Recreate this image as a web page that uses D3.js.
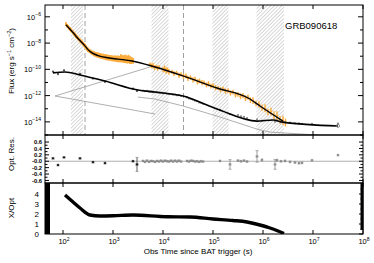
<!DOCTYPE html>
<html><head><meta charset="utf-8">
<script src="https://cdn.jsdelivr.net/npm/d3@7"></script>
<style>body{margin:0;background:#fff}svg{display:block}text{font-family:"Liberation Sans",Arial,sans-serif;fill:#000}</style>
</head><body><svg id="c" width="374" height="263"></svg>
<script>
// ---------- DATA (log10 values) ----------
const timeTicks = [2,3,4,5,6,7,8];
const fluxTicks = [-6,-8,-10,-12,-14];
const resTicks = [0.6,0.4,0.2,0,-0.2,-0.4,-0.6];
const resTickLabels = ["0.6","0.4","0.2","-0.0","-0.2","-0.4","-0.6"];
const ratioTicks = [0,1,2,3,4];
const grbName = "GRB090618";

const hatchBands = [[2.16,2.40],[3.77,4.11],[4.99,5.31],[5.87,6.42]];
const dashedTimes = [2.44,4.41];

// X-ray (orange) data: log t, log flux, half error (dex)
const xrayLogT = [2.06,2.08,2.10,2.12,2.14,2.16,2.18,2.20,2.22,2.24,2.26,2.28,2.30,2.32,2.34,2.36,2.38,2.40,2.42,2.44,2.46,2.48,2.50,2.53,2.56,2.59,2.62,2.65,2.68,2.71,2.74,2.77,2.80,2.83,2.86,2.89,2.92,2.95,2.98,3.01,3.04,3.07,3.10,3.13,3.16,3.19,3.22,3.25,3.28,3.31,3.34,3.37,3.40,
  3.74,3.77,3.80,3.83,3.86,3.89,3.92,4.00,4.03,4.06,4.09,4.12,4.18,4.22,4.27,4.32,4.36,4.41,4.46,4.50,4.55,4.60,4.64,4.69,4.73,4.78,4.82,4.87,4.91,4.96,5.00,5.05,5.10,5.15,5.20,5.25,5.30,5.35,5.40,5.45,5.50,5.55,5.60,5.65,5.70,5.75,5.80,5.86,5.92,5.98,6.04,6.10,6.16,6.22,6.28,6.34,6.40,6.45];
const xrayLogF = [-6.55,-6.68,-6.74,-6.85,-6.92,-7.02,-7.10,-7.18,-7.28,-7.35,-7.47,-7.55,-7.63,-7.72,-7.80,-7.88,-7.96,-8.04,-8.13,-8.22,-8.33,-8.43,-8.50,-8.60,-8.68,-8.75,-8.82,-8.86,-8.90,-8.93,-8.97,-9.00,-9.02,-9.05,-9.08,-9.10,-9.12,-9.13,-9.16,-9.17,-9.18,-9.20,-9.20,-9.22,-9.16,-9.20,-9.22,-9.20,-9.26,-9.22,-9.30,-9.32,-9.36,
  -9.62,-9.74,-9.70,-9.86,-9.80,-9.90,-9.84,-10.02,-9.95,-10.10,-10.05,-10.20,-10.18,-10.32,-10.26,-10.45,-10.38,-10.52,-10.50,-10.68,-10.62,-10.80,-10.74,-10.95,-10.88,-11.02,-11.00,-11.18,-11.10,-11.28,-11.22,-11.40,-11.42,-11.55,-11.48,-11.66,-11.62,-11.80,-11.74,-11.94,-11.90,-12.05,-12.00,-12.20,-12.12,-12.35,-12.38,-12.60,-12.68,-12.92,-12.96,-13.25,-13.22,-13.50,-13.55,-13.85,-13.88,-14.05];
const xrayErr = [0.14,0.14,0.14,0.14,0.14,0.14,0.14,0.14,0.14,0.14,0.14,0.14,0.14,0.14,0.15,0.15,0.15,0.15,0.16,0.16,0.16,0.16,0.17,0.17,0.18,0.18,0.19,0.19,0.2,0.2,0.21,0.21,0.21,0.21,0.22,0.22,0.22,0.22,0.22,0.22,0.24,0.24,0.26,0.24,0.30,0.28,0.30,0.32,0.30,0.32,0.29,0.27,0.22,
  0.15,0.18,0.20,0.18,0.15,0.20,0.16,0.20,0.25,0.25,0.20,0.22,0.15,0.18,0.15,0.20,0.16,0.20,0.18,0.20,0.16,0.20,0.18,0.20,0.18,0.20,0.15,0.18,0.20,0.18,0.16,0.20,0.16,0.20,0.18,0.20,0.18,0.20,0.18,0.20,0.18,0.22,0.20,0.22,0.20,0.22,0.25,0.22,0.25,0.25,0.30,0.25,0.30,0.30,0.35,0.30,0.35,0.30];

// X-ray model (black line through orange)
const xrayModelLogT = [2.06,2.20,2.30,2.40,2.44,2.50,2.58,2.70,2.90,3.10,3.38,3.84,4.40,5.08,5.74,5.94,6.40];
const xrayModelLogF = [-6.61,-7.20,-7.65,-8.05,-8.21,-8.50,-8.75,-8.95,-9.12,-9.22,-9.36,-9.82,-10.50,-11.42,-12.26,-12.79,-13.94];

// Optical model (lower black line)
const optModelLogT = [1.80,2.04,2.34,2.84,3.50,3.84,4.40,5.08,5.88,6.20,6.40,7.50];
const optModelLogF = [-10.27,-10.20,-10.43,-10.89,-11.57,-11.73,-12.03,-13.02,-13.94,-13.86,-14.02,-14.32];

// Optical data: log t, log flux, residual, residual error
const optLogT = [1.80,1.90,2.02,2.34,2.60,2.84,3.40,3.48,
  3.60,3.64,3.68,3.72,3.76,3.80,3.84,3.88,3.92,3.96,4.00,4.04,4.08,4.12,4.16,4.20,4.24,4.28,4.32,4.36,
  4.48,4.52,4.56,4.60,4.64,4.68,4.72,4.76,4.80,5.14,5.34,5.50,5.56,5.62,5.68,5.88,5.98,6.24,6.28,6.36,6.44,6.54,6.64,6.72,6.78,6.98,7.50];
const optLogF = [-10.18,-10.36,-10.07,-10.34,-10.70,-10.95,-11.47,-11.65,
  -11.61,-11.66,-11.64,-11.69,-11.68,-11.70,-11.75,-11.74,-11.78,-11.77,-11.83,-11.82,-11.86,-11.89,-11.88,-11.93,-11.92,-11.98,-11.97,-12.02,
  -12.14,-12.22,-12.25,-12.31,-12.39,-12.43,-12.52,-12.55,-12.62,-13.08,-13.42,-13.48,-13.58,-13.62,-13.72,-13.80,-13.90,-13.99,-13.90,-13.99,-14.04,-14.05,-14.11,-14.12,-14.15,-14.15,-14.13];
const optRes = [0.09,-0.12,0.12,0.09,-0.03,-0.06,0.00,-0.10,
  0.01,-0.02,0.02,-0.02,0.01,0.00,-0.02,0.01,-0.01,0.02,-0.01,0.02,0.00,-0.01,0.02,-0.01,0.02,-0.01,0.02,-0.01,
  0.01,-0.01,0.02,0.01,-0.01,0.00,-0.02,0.00,-0.01,0.01,-0.10,0.02,0.00,0.02,-0.01,0.15,0.04,-0.10,0.03,0.00,0.01,-0.02,-0.04,-0.06,-0.05,0.03,0.19];
const optResErr = [0.02,0.02,0.02,0.02,0.02,0.02,0.02,0.22,
  0.03,0.03,0.03,0.03,0.03,0.03,0.03,0.03,0.03,0.03,0.03,0.03,0.03,0.03,0.03,0.03,0.03,0.03,0.03,0.03,
  0.03,0.03,0.03,0.03,0.03,0.03,0.03,0.03,0.03,0.03,0.15,0.04,0.04,0.04,0.04,0.18,0.05,0.15,0.05,0.04,0.04,0.04,0.04,0.04,0.04,0.03,0.03];

// Thin gray model components
const compRiseLogT = [1.84,3.74];
const compRiseLogF = [-12.03,-9.82];
const compDecayLogT = [1.84,3.84];
const compDecayLogF = [-12.03,-13.40];
const compLateLogT = [3.50,3.84,4.40,5.08,5.88,6.14,7.10];
const compLateLogF = [-12.11,-12.26,-12.79,-13.56,-14.55,-14.78,-15.0];

// X/Opt ratio curve
const ratioLogT = [2.04,2.20,2.34,2.54,2.74,3.00,3.40,4.08,4.54,5.00,5.40,5.68,5.94,6.14,6.30,6.42];
const ratioVal  = [3.9,3.2,2.6,1.9,1.8,1.82,1.9,1.72,1.7,1.5,1.35,1.2,0.9,0.6,0.3,0.05];

// ---------- DRAWING ----------
const svg = d3.select("#c");
const L = 45, R = 363, T = 5, B1 = 135, B2 = 183, B3 = 234;
const x = d3.scaleLog().domain([Math.pow(10,1.64), 1e8]).range([L,R]);
const yF = d3.scaleLog().domain([1e-15, Math.pow(10,-5.1)]).range([B1,T]);
const yR = d3.scaleLinear().domain([-0.68,0.82]).range([B2,B1]);
const yQ = d3.scaleLinear().domain([0,5.1]).range([B3,B2]);
const p10 = v => Math.pow(10,v);
const orange = "#fcac3c";

const defs = svg.append("defs");
const pat = defs.append("pattern").attr("id","hatch").attr("patternUnits","userSpaceOnUse")
  .attr("width",2.6).attr("height",2.6).attr("patternTransform","rotate(45)");
pat.append("line").attr("x1",0).attr("y1",0).attr("x2",0).attr("y2",2.6).attr("stroke","#a8a8a8").attr("stroke-width",0.9);
[["cm",T,B1],["cr",B1,B2],["cq",B2,B3]].forEach(([id,a,b])=>{
  defs.append("clipPath").attr("id",id).append("rect").attr("x",L).attr("y",a).attr("width",R-L).attr("height",b-a);
});

// --- main panel ---
const gm = svg.append("g").attr("clip-path","url(#cm)");
gm.selectAll("rect.h").data(hatchBands).join("rect")
  .attr("x",d=>x(p10(d[0]))).attr("width",d=>x(p10(d[1]))-x(p10(d[0])))
  .attr("y",T).attr("height",B1-T).attr("fill","url(#hatch)");
gm.selectAll("line.d").data(dashedTimes).join("line")
  .attr("x1",d=>x(p10(d))).attr("x2",d=>x(p10(d))).attr("y1",T).attr("y2",B1)
  .attr("stroke","#a0a0a0").attr("stroke-width",1).attr("stroke-dasharray","5,3");

const lineLog = d3.line().x(d=>x(p10(d[0]))).y(d=>yF(p10(d[1])));
const zip = (a,b)=>a.map((v,i)=>[v,b[i]]);
[[compRiseLogT,compRiseLogF],[compDecayLogT,compDecayLogF],[compLateLogT,compLateLogF]].forEach(([a,b])=>{
  gm.append("path").attr("d",lineLog(zip(a,b))).attr("fill","none").attr("stroke","#9a9a9a").attr("stroke-width",0.8);
});

// orange error bars
const xr = xrayLogT.map((t,i)=>({t,f:xrayLogF[i],e:xrayErr[i]}));
gm.selectAll("line.xv").data(xr).join("line")
  .attr("x1",d=>x(p10(d.t))).attr("x2",d=>x(p10(d.t)))
  .attr("y1",d=>yF(p10(d.f+d.e))).attr("y2",d=>yF(p10(d.f-d.e)))
  .attr("stroke",orange).attr("stroke-width",d=>d.t<3.5?2:1.4);
gm.selectAll("line.xh").data(xr.filter(d=>d.t>3.5)).join("line")
  .attr("x1",d=>x(p10(d.t-0.025))).attr("x2",d=>x(p10(d.t+0.025)))
  .attr("y1",d=>yF(p10(d.f))).attr("y2",d=>yF(p10(d.f)))
  .attr("stroke",orange).attr("stroke-width",1.2);

// optical points
const op = optLogT.map((t,i)=>({t,f:optLogF[i],r:optRes[i],re:optResErr[i]}));
gm.selectAll("circle.o").data(op).join("circle")
  .attr("cx",d=>x(p10(d.t))).attr("cy",d=>yF(p10(d.f))).attr("r",1.1)
  .attr("fill",d=>d.t<3.5?"#444":"#888");

// model lines
gm.append("path").attr("d",lineLog.curve(d3.curveMonotoneX)(zip(xrayModelLogT,xrayModelLogF)))
  .attr("fill","none").attr("stroke","#000").attr("stroke-width",1.4);
gm.append("path").attr("d",lineLog.curve(d3.curveMonotoneX)(zip(optModelLogT,optModelLogF)))
  .attr("fill","none").attr("stroke","#000").attr("stroke-width",1.6);
gm.append("circle").attr("cx",x(p10(7.5))).attr("cy",yF(p10(-14.3))).attr("r",1.6)
  .attr("fill","none").attr("stroke","#777").attr("stroke-width",0.8);

svg.append("text").attr("x",285).attr("y",29).attr("font-size",9.5).text(grbName);

// --- residual panel ---
const gr = svg.append("g").attr("clip-path","url(#cr)");
gr.append("line").attr("x1",L).attr("x2",R).attr("y1",yR(0)).attr("y2",yR(0)).attr("stroke","#999").attr("stroke-width",0.8);
gr.selectAll("line.re").data(op).join("line")
  .attr("x1",d=>x(p10(d.t))).attr("x2",d=>x(p10(d.t)))
  .attr("y1",d=>yR(d.r+d.re)).attr("y2",d=>yR(d.r-d.re))
  .attr("stroke",d=>d.t<3.5?"#333":"#888").attr("stroke-width",0.8);
gr.selectAll("line.rh").data(op.filter(d=>d.re>0.1)).join("line")
  .attr("x1",d=>x(p10(d.t))-1.5).attr("x2",d=>x(p10(d.t))+1.5)
  .attr("y1",d=>yR(d.r+d.re)).attr("y2",d=>yR(d.r+d.re)).attr("stroke","#888").attr("stroke-width",0.7);
gr.selectAll("line.rh2").data(op.filter(d=>d.re>0.1)).join("line")
  .attr("x1",d=>x(p10(d.t))-1.5).attr("x2",d=>x(p10(d.t))+1.5)
  .attr("y1",d=>yR(d.r-d.re)).attr("y2",d=>yR(d.r-d.re)).attr("stroke","#888").attr("stroke-width",0.7);
gr.selectAll("path.rm").data(op).join("path")
  .attr("d",d=>{const cx=x(p10(d.t)),cy=yR(d.r);return `M${cx-1.4},${cy}H${cx+1.4}M${cx},${cy-1.4}V${cy+1.4}M${cx-1},${cy-1}L${cx+1},${cy+1}M${cx-1},${cy+1}L${cx+1},${cy-1}`;})
  .attr("stroke",d=>d.t<3.5?"#111":"#888").attr("stroke-width",0.8).attr("fill","none");

// --- ratio panel ---
const gq = svg.append("g").attr("clip-path","url(#cq)");
gq.append("path").attr("d",d3.line().x(d=>x(p10(d[0]))).y(d=>yQ(d[1])).curve(d3.curveMonotoneX)(zip(ratioLogT,ratioVal)))
  .attr("fill","none").attr("stroke","#000").attr("stroke-width",3.4);
svg.append("rect").attr("x",L).attr("y",B2).attr("width",5).attr("height",B3-B2).attr("fill","#000");
svg.append("rect").attr("x",R-2.5).attr("y",B2).attr("width",3).attr("height",47).attr("fill","#000");

// --- frames and ticks ---
const fr = svg.append("g").attr("stroke","#000").attr("fill","none");
[[T,B1],[B1,B2],[B2,B3]].forEach(([a,b])=>{
  fr.append("rect").attr("x",L).attr("y",a).attr("width",R-L).attr("height",b-a).attr("stroke-width",1);
  timeTicks.forEach(t=>{
    const xx = x(p10(t));
    fr.append("line").attr("x1",xx).attr("x2",xx).attr("y1",a).attr("y2",a+4);
    fr.append("line").attr("x1",xx).attr("x2",xx).attr("y1",b).attr("y2",b-4);
  });
});
d3.range(-15,-5).forEach(v=>{
  const yy = yF(p10(v)), len = (v%2===0)?5:3;
  fr.append("line").attr("x1",L).attr("x2",L+len).attr("y1",yy).attr("y2",yy);
  fr.append("line").attr("x1",R).attr("x2",R-len).attr("y1",yy).attr("y2",yy);
});
d3.range(-6,7).map(v=>v/10).forEach(v=>{
  const yy = yR(v), len = (Math.round(v*10)%2===0)?4:2.5;
  fr.append("line").attr("x1",L).attr("x2",L+len).attr("y1",yy).attr("y2",yy);
  fr.append("line").attr("x1",R).attr("x2",R-len).attr("y1",yy).attr("y2",yy);
});
d3.range(0,10).map(v=>v/2).forEach(v=>{
  const yy = yQ(v), len = (v%1===0)?4:2.5;
  fr.append("line").attr("x1",R).attr("x2",R-len).attr("y1",yy).attr("y2",yy);
});

// tick labels
const pow = (sel,base,exp,fs)=>{
  sel.append("tspan").attr("font-size",fs).text(base);
  sel.append("tspan").attr("font-size",fs*0.68).attr("dy",-fs*0.45).text(exp);
};
fluxTicks.forEach(v=>{
  const t = svg.append("text").attr("x",L-4).attr("y",yF(p10(v))+3).attr("text-anchor","end");
  pow(t,"10",String(v).replace("-","\u2212"),7.5);
});
timeTicks.forEach(v=>{
  const t = svg.append("text").attr("x",x(p10(v))+1).attr("y",244).attr("text-anchor","middle");
  pow(t,"10",String(v),7.5);
});
resTicks.forEach((v,i)=>{
  svg.append("text").attr("x",L-3).attr("y",yR(v)+2.1).attr("text-anchor","end").attr("font-size",5.8)
    .attr("font-weight","bold").text(resTickLabels[i]);
});
ratioTicks.forEach(v=>{
  svg.append("text").attr("x",L-6).attr("y",yQ(v)+3).attr("text-anchor","end").attr("font-size",8).text(String(v));
});

// axis titles
const ft = svg.append("text").attr("transform","translate(14,61) rotate(-90)").attr("text-anchor","middle").attr("font-size",8);
ft.append("tspan").text("Flux (erg s");
ft.append("tspan").attr("font-size",5.5).attr("dy",-3).text("\u22121");
ft.append("tspan").attr("dy",3).text(" cm");
ft.append("tspan").attr("font-size",5.5).attr("dy",-3).text("\u22122");
ft.append("tspan").attr("dy",3).text(")");
svg.append("text").attr("transform","translate(14,154) rotate(-90)").attr("text-anchor","middle").attr("font-size",8).text("Opt. Res.");
svg.append("text").attr("transform","translate(14,208) rotate(-90)").attr("text-anchor","middle").attr("font-size",8).text("X/Opt");
svg.append("text").attr("x",198).attr("y",254).attr("text-anchor","middle").attr("font-size",8).text("Obs Time since BAT trigger (s)");
</script></body></html>
